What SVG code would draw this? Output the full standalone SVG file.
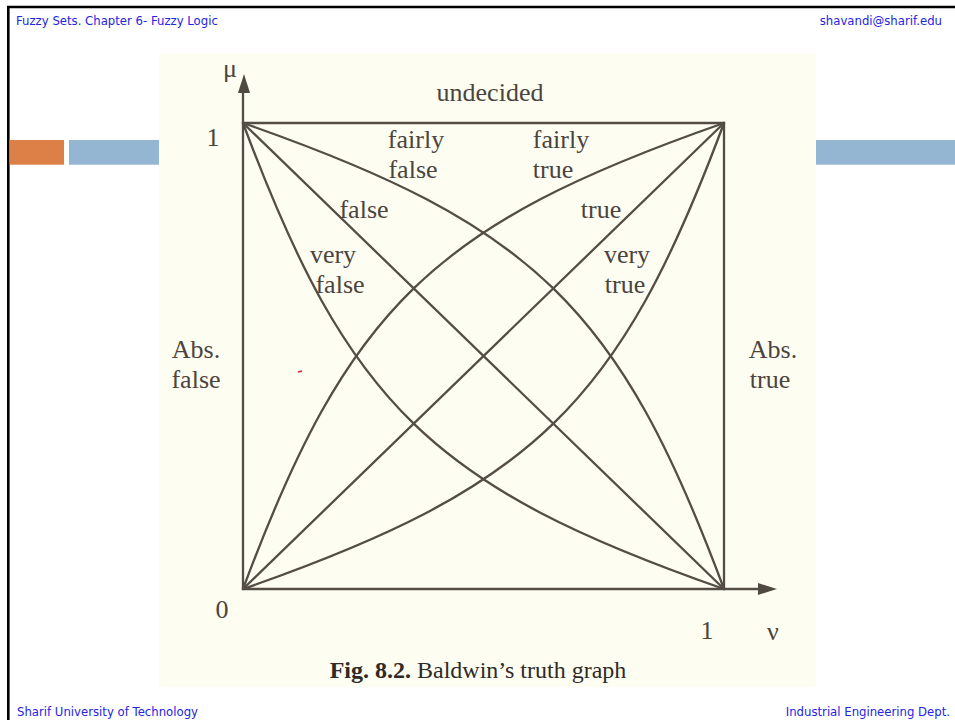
<svg xmlns="http://www.w3.org/2000/svg" width="955" height="720" viewBox="0 0 955 720">
<style>
.hdr{font-family:"DejaVu Sans","Liberation Sans",sans-serif;font-size:11.7px;fill:#2424e2}
.lbl{font-family:"Liberation Serif","Times New Roman",serif;font-size:26px;fill:#4a443e}
.cap{font-family:"Liberation Serif","Times New Roman",serif;font-size:24px;fill:#2e2a26}
.ln{fill:none;stroke:#544d46;stroke-width:2.3;stroke-linecap:round}
</style>
<rect width="955" height="720" fill="#ffffff"/>
<g id="slide-frame">
<path d="M8.3,720 V7 H955" fill="none" stroke="#000" stroke-width="2.6"/>
<rect x="9.5" y="140" width="54.5" height="24.7" fill="#dd8047"/>
<rect x="69" y="140" width="90" height="24.7" fill="#94b6d2"/>
<rect x="816" y="140" width="139" height="24.7" fill="#94b6d2"/>
</g>
<g id="header">
<text class="hdr" x="16" y="25">Fuzzy Sets. Chapter 6- Fuzzy Logic</text>
<text class="hdr" x="942" y="25" text-anchor="end">shavandi@sharif.edu</text>
<text class="hdr" x="17" y="716">Sharif University of Technology</text>
<text class="hdr" x="950" y="716" text-anchor="end">Industrial Engineering Dept.</text>
</g>
<rect id="figure-bg" x="159" y="53" width="657" height="634" fill="#fefdf2"/>
<g id="connectors">
<path class="ln" d="M243,589 V88"/>
<polygon points="244,74 238,93 250,93" fill="#4f4942"/>
<path class="ln" d="M243,589 H762"/>
<polygon points="777,589 758,583 758,595" fill="#4f4942"/>
<path class="ln" d="M243,123 H724 V589"/>
<path class="ln" d="M243,589 L724,123"/>
<path class="ln" d="M243,123 L724,589"/>
<path class="ln" d="M243,589 C534,487.4 619.1,404.9 724,123"/>
<path class="ln" d="M243,589 C347.9,307.1 433,224.6 724,123"/>
<path class="ln" d="M243,123 C347.9,404.9 433,487.4 724,589"/>
<path class="ln" d="M243,123 C534,224.6 619.1,307.1 724,589"/>
<path d="M298,372 L302,371" stroke="#e02020" stroke-width="1.5"/>
</g>
<g id="labels">
<text class="lbl" x="230" y="77" text-anchor="middle">μ</text>
<text class="lbl" x="213" y="146" text-anchor="middle">1</text>
<text class="lbl" x="490" y="101" text-anchor="middle">undecided</text>
<text class="lbl" x="416" y="148" text-anchor="middle">fairly</text>
<text class="lbl" x="413" y="178" text-anchor="middle">false</text>
<text class="lbl" x="561" y="148" text-anchor="middle">fairly</text>
<text class="lbl" x="553" y="178" text-anchor="middle">true</text>
<text class="lbl" x="364" y="218" text-anchor="middle">false</text>
<text class="lbl" x="601" y="218" text-anchor="middle">true</text>
<text class="lbl" x="333" y="263" text-anchor="middle">very</text>
<text class="lbl" x="340" y="293" text-anchor="middle">false</text>
<text class="lbl" x="627" y="263" text-anchor="middle">very</text>
<text class="lbl" x="625" y="293" text-anchor="middle">true</text>
<text class="lbl" x="196" y="358" text-anchor="middle">Abs.</text>
<text class="lbl" x="196" y="388" text-anchor="middle">false</text>
<text class="lbl" x="773" y="358" text-anchor="middle">Abs.</text>
<text class="lbl" x="770" y="388" text-anchor="middle">true</text>
<text class="lbl" x="222" y="618" text-anchor="middle">0</text>
<text class="lbl" x="707" y="639" text-anchor="middle">1</text>
<text class="lbl" x="773" y="640" text-anchor="middle">ν</text>
<text class="cap" x="478" y="678" text-anchor="middle"><tspan font-weight="bold">Fig. 8.2.</tspan> Baldwin’s truth graph</text>
</g>
</svg>
